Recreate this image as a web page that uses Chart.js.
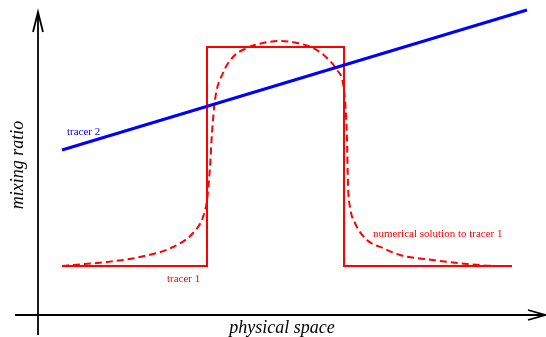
<!DOCTYPE html>
<html>
<head>
<meta charset="utf-8">
<script src="https://cdn.jsdelivr.net/npm/chart.js@4"></script>
<style>
  body { margin: 0; background: #fff; }
  canvas { display: block; }
</style>
</head>
<body>
<canvas id="mixChart" width="546" height="337"></canvas>
<script>
// schematic data (x = physical space, y = mixing ratio), origin at the axes corner
const tracer2X = [24, 489];
const tracer2Y = [165, 305];

const tracer1X = [24, 169, 169, 306, 306, 474];
const tracer1Y = [49, 49, 268, 268, 49, 49];

const numericX = [24, 35, 69, 102, 135, 155, 165, 169, 172, 174, 177, 185, 195, 209, 225, 242,
                  259, 275, 289, 299, 305, 307, 309, 310, 312, 317, 329, 345, 362, 395, 429, 462, 474];
const numericY = [49, 50, 53, 58, 68, 82, 98, 115, 148, 182, 215, 242, 258, 267, 272, 274,
                  272, 267, 257, 245, 232, 215, 175, 130, 108, 92, 75, 67, 60, 55, 51, 49, 49];

// axes and arrow heads
const xAxisX = [-23, 507];
const xAxisY = [0, 0];
const yAxisX = [0, 0];
const yAxisY = [-20, 303];
const xArrowX = [490, 507, 490];
const xArrowY = [5, 0, -5];
const yArrowX = [-5, 0, 5];
const yArrowY = [283, 303, 283];

function pts(xs, ys) {
    return xs.map(function (x, i) { return { x: x, y: ys[i] }; });
}

const serif = '"Liberation Serif", "DejaVu Serif", serif';

const labelPlugin = {
    id: 'labels',
    afterDraw: function (chart) {
        const ctx = chart.ctx;
        const sx = chart.scales.x, sy = chart.scales.y;
        ctx.save();
        ctx.textBaseline = 'alphabetic';

        ctx.font = '11px ' + serif;
        ctx.fillStyle = '#0000ff';
        ctx.textAlign = 'left';
        ctx.fillText('tracer 2', sx.getPixelForValue(29), sy.getPixelForValue(180));

        ctx.fillStyle = '#ff0000';
        ctx.fillText('tracer 1', sx.getPixelForValue(129), sy.getPixelForValue(33));
        ctx.fillText('numerical solution to tracer 1', sx.getPixelForValue(335), sy.getPixelForValue(78));

        ctx.fillStyle = '#000';
        ctx.font = 'italic 18px ' + serif;
        ctx.textAlign = 'center';
        ctx.fillText('physical space', sx.getPixelForValue(244), sy.getPixelForValue(-18));

        ctx.translate(sx.getPixelForValue(-15), sy.getPixelForValue(150));
        ctx.rotate(-Math.PI / 2);
        ctx.fillText('mixing ratio', 0, 0);
        ctx.restore();
    }
};

const ctx = document.getElementById('mixChart').getContext('2d');
new Chart(ctx, {
    type: 'scatter',
    data: {
        datasets: [
            { data: pts(tracer2X, tracer2Y), borderColor: '#0000ff', borderWidth: 3 },
            { data: pts(numericX, numericY), borderColor: '#ff0000', borderWidth: 2,
              borderDash: [7, 4], cubicInterpolationMode: 'monotone' },
            { data: pts(tracer1X, tracer1Y), borderColor: '#ff0000', borderWidth: 2 },
            { data: pts(xAxisX, xAxisY), borderColor: '#000', borderWidth: 1.8 },
            { data: pts(yAxisX, yAxisY), borderColor: '#000', borderWidth: 1.8 },
            { data: pts(xArrowX, xArrowY), borderColor: '#000', borderWidth: 1.8 },
            { data: pts(yArrowX, yArrowY), borderColor: '#000', borderWidth: 1.8 }
        ]
    },
    options: {
        responsive: false,
        animation: false,
        showLine: true,
        layout: { padding: 0 },
        elements: { point: { radius: 0 }, line: { fill: false } },
        plugins: { legend: { display: false }, tooltip: { enabled: false } },
        scales: {
            x: { type: 'linear', display: false, min: -38, max: 508 },
            y: { type: 'linear', display: false, min: -22, max: 315 }
        }
    },
    plugins: [labelPlugin]
});
</script>
</body>
</html>
